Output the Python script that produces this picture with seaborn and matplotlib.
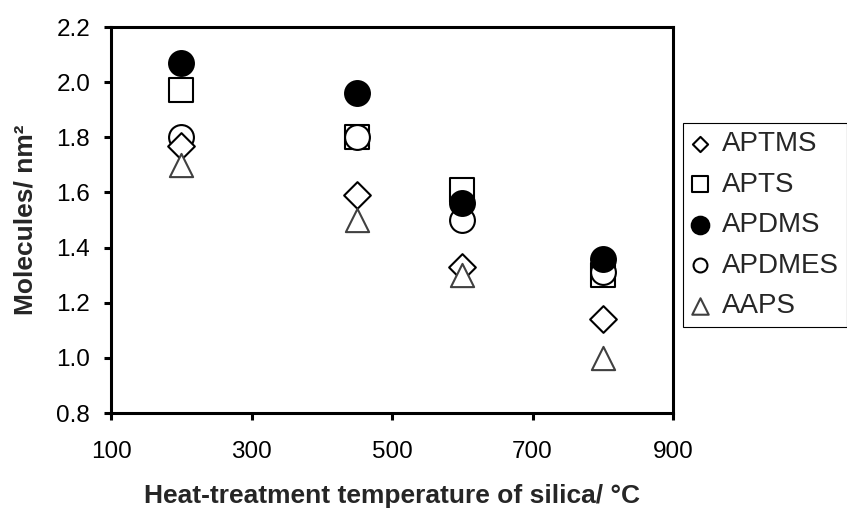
import matplotlib
matplotlib.use("Agg")
import matplotlib.pyplot as plt
import seaborn as sns

# ---- data ----
temperatures = [200, 450, 600, 800]
aptms = [1.77, 1.59, 1.33, 1.14]
apts = [1.97, 1.80, 1.61, 1.30]
apdms = [2.07, 1.96, 1.56, 1.36]
apdmes = [1.80, 1.80, 1.50, 1.31]
aaps = [1.70, 1.50, 1.30, 1.00]

legend_order = ["APTMS", "APTS", "APDMS", "APDMES", "AAPS"]
draw_order = ["APTS", "APDMES", "APDMS", "APTMS", "AAPS"]
x_ticks = [100, 300, 500, 700, 900]
y_ticks = [0.8, 1.0, 1.2, 1.4, 1.6, 1.8, 2.0, 2.2]
x_label = "Heat-treatment temperature of silica/ °C"
y_label = "Molecules/ nm²"

values = {"APTMS": aptms, "APTS": apts, "APDMS": apdms, "APDMES": apdmes, "AAPS": aaps}

styles = {
    "APTMS": dict(marker="D", s=185, facecolor="white", edgecolor="black", leg_s=60),
    "APTS": dict(marker="s", s=290, facecolor="white", edgecolor="black", leg_s=140),
    "APDMS": dict(marker="o", s=320, facecolor="black", edgecolor="black", leg_s=160),
    "APDMES": dict(marker="o", s=320, facecolor="white", edgecolor="black", leg_s=100),
    "AAPS": dict(marker="^", s=280, facecolor="white", edgecolor="#404040", leg_s=140),
}

sns.set_style("ticks")
plt.rcParams["font.family"] = ["Liberation Sans", "DejaVu Sans"]

fig = plt.figure(figsize=(8.47, 5.09), dpi=100)
ax = fig.add_axes([111 / 847, 1 - 413 / 509, (673 - 111) / 847, (413 - 27) / 509])

for name in draw_order:
    st = styles[name]
    sns.scatterplot(x=temperatures, y=values[name], marker=st["marker"], s=st["s"],
                    facecolor=st["facecolor"], edgecolor=st["edgecolor"],
                    linewidth=1.5, label=name, ax=ax, zorder=3, clip_on=False)

ax.set_xlim(100, 900)
ax.set_ylim(0.8, 2.2)
ax.set_xticks(x_ticks)
ax.set_yticks(y_ticks)
ax.set_yticklabels([f"{v:.1f}" for v in y_ticks])
ax.set_xticklabels([str(v) for v in x_ticks])

for side in ["left", "right", "top", "bottom"]:
    ax.spines[side].set_visible(True)
    ax.spines[side].set_linewidth(2.2)
    ax.spines[side].set_color("black")

ax.tick_params(axis="both", direction="out", length=5, width=2.2, color="black",
               labelsize=17.5, labelcolor="black")
ax.tick_params(axis="x", pad=15)
ax.tick_params(axis="y", pad=10)

ax.set_xlabel(x_label, fontsize=19, fontweight="bold")
ax.set_ylabel(y_label, fontsize=19, fontweight="bold")
ax.xaxis.set_label_coords(0.5, -0.185)
ax.yaxis.set_label_coords(-0.13, 0.5)

handles, labels = ax.get_legend_handles_labels()
hmap = dict(zip(labels, handles))
leg = ax.legend([hmap[n] for n in legend_order], legend_order,
                loc="upper left", bbox_to_anchor=(683 / 847, 1 - 123 / 509),
                bbox_transform=fig.transFigure, borderaxespad=0,
                fontsize=20, frameon=True, fancybox=False, framealpha=1,
                edgecolor="black", borderpad=0.3, labelspacing=0.52,
                handlelength=0.6, handletextpad=0.5, scatterpoints=1)
leg.get_frame().set_linewidth(0.8)
for h, n in zip(leg.legend_handles, legend_order):
    h.set_sizes([styles[n]["leg_s"]])

fig.savefig("out.png", dpi=100)
